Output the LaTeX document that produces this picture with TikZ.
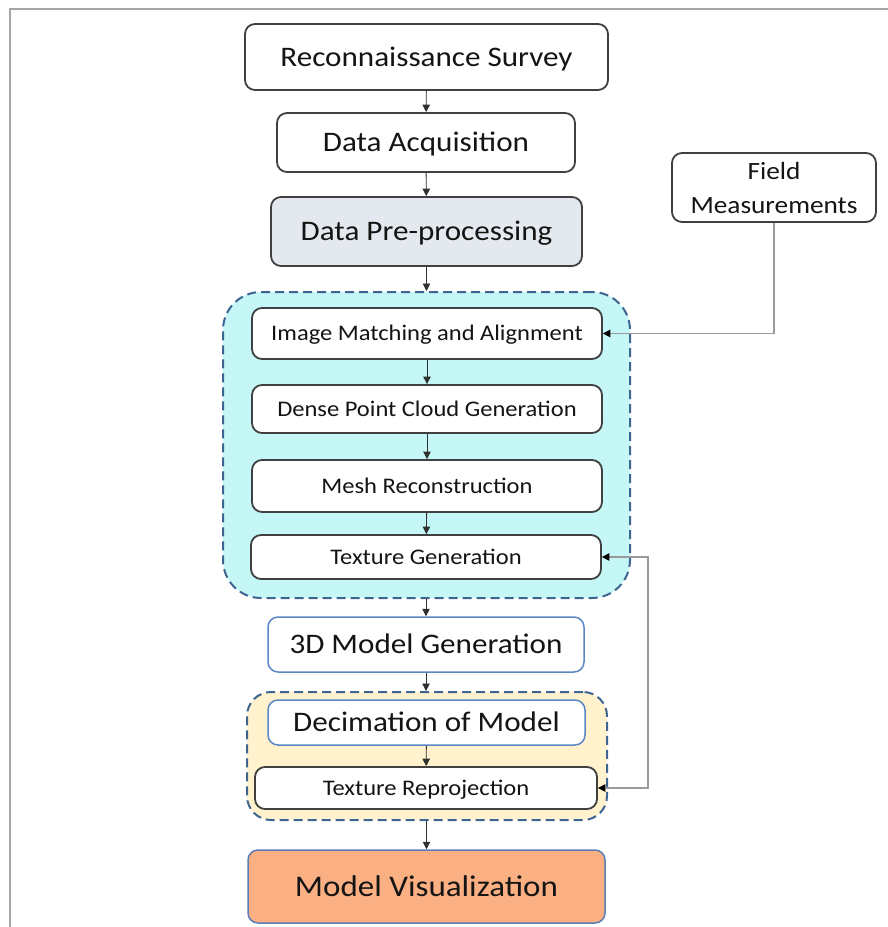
\documentclass[tikz,border=0pt]{standalone}
\usepackage{fontspec}
\usepackage{graphicx}
\setmainfont{Carlito}
\usetikzlibrary{arrows.meta}
\definecolor{boxline}{HTML}{404040}
\definecolor{blueline}{HTML}{5B86C5}
\definecolor{dashline}{HTML}{3E6591}
\definecolor{cyanfill}{HTML}{C6F7F7}
\definecolor{yelfill}{HTML}{FFF2CC}
\definecolor{prepfill}{HTML}{E4E9EF}
\definecolor{visfill}{HTML}{FBB083}
\definecolor{visline}{HTML}{5B7DB5}
\definecolor{grayline}{HTML}{9A9A9A}
\definecolor{arrline}{HTML}{303030}
\definecolor{framec}{HTML}{A6A6A6}
\definecolor{textc}{HTML}{141414}
\newcommand\wx[1]{\scalebox{1.1}[1]{#1}}
\begin{document}
\begin{tikzpicture}[x=1pt,y=-1pt,
  basebox/.style={draw=boxline, line width=1.8pt, rounded corners=10pt, fill=white, inner sep=0pt, text=textc},
  box/.style={basebox, text depth=0pt},
  bluebox/.style={box, draw=blueline, line width=1.5pt},
  big/.style={font=\fontsize{28.3}{34}\selectfont, text height=18.2pt},
  small/.style={font=\fontsize{22.3}{27}\selectfont, text height=14.4pt},
  huge/.style={font=\fontsize{30}{36}\selectfont, text height=19.3pt},
  grp/.style={draw=dashline, line width=2pt, dash pattern=on 9pt off 5pt, inner sep=0pt},
  arr/.style={-{Triangle[width=7.5pt,length=7.5pt]}, line width=0.9pt, draw=arrline},
  garr/.style={-{Triangle[width=7.5pt,length=7.5pt,color=black]}, line width=1.4pt, draw=grayline},
  garrb/.style={{Triangle[width=7.5pt,length=7.5pt,color=black]}-{Triangle[width=7.5pt,length=7.5pt,color=black]}, line width=1.4pt, draw=grayline},
  framestyle/.style={draw=framec, line width=2pt}
]
\useasboundingbox (0,0) rectangle (888,927);
\draw[framestyle] (10,927) -- (10,9) -- (888,9);

% groups
\node[grp, fill=cyanfill, rounded corners=38pt, minimum width=407pt, minimum height=306pt] (g1) at (426.5,445) {};
\node[grp, fill=yelfill, rounded corners=24pt, minimum width=360pt, minimum height=128pt] (g2) at (427,756) {};

% boxes
\node[box, big, minimum width=363pt, minimum height=66pt] (recon) at (426.5,57) {\wx{Reconnaissance Survey}};
\node[box, big, minimum width=298pt, minimum height=59pt] (acq) at (426,142.5) {\wx{Data Acquisition}};
\node[box, big, fill=prepfill, minimum width=311pt, minimum height=69pt] (prep) at (426.5,231.5) {\wx{Data Pre-processing}};
\node[box, small, minimum width=350pt, minimum height=51pt] (img) at (427,333.5) {\wx{Image Matching and Alignment}};
\node[box, small, minimum width=350pt, minimum height=48pt] (dense) at (427,409) {\wx{Dense Point Cloud Generation}};
\node[box, small, minimum width=350pt, minimum height=52pt] (mesh) at (427,486) {\wx{Mesh Reconstruction}};
\node[box, small, minimum width=350pt, minimum height=44pt] (texgen) at (426,557) {\wx{Texture Generation}};
\node[bluebox, big, minimum width=316pt, minimum height=55pt] (model) at (426,644.5) {\wx{3D Model Generation}};
\node[bluebox, big, minimum width=317pt, minimum height=45pt] (decim) at (426.5,722.5) {\wx{Decimation of Model}};
\node[box, small, minimum width=342pt, minimum height=42pt] (texrep) at (426,788) {\wx{Texture Reprojection}};
\node[bluebox, huge, draw=visline, fill=visfill, minimum width=357pt, minimum height=73pt] (vis) at (426.5,886.5) {\wx{Model Visualization}};
\node[basebox, align=center, font=\fontsize{24.8}{34}\selectfont, minimum width=204pt, minimum height=69pt] (field) at (774,187.5) {\wx{Field}\\\wx{Measurements}};

% connectors
\draw[arr] (recon) -- (acq);
\draw[arr] (acq) -- (prep);
\draw[arr] (prep.south) -- (prep.south |- g1.north);
\draw[arr] (img) -- (dense);
\draw[arr] (dense) -- (mesh);
\draw[arr] (mesh) -- (texgen);
\draw[arr] (model.north |- g1.south) -- (model.north);
\draw[arr] (model.south) -- (model.south |- g2.north);
\draw[arr] (decim) -- (texrep);
\draw[arr] (vis.north |- g2.south) -- (vis.north);

\coordinate (fb) at (648,0);
\draw[garr] (field.south) |- (img.east);
\draw[garrb] (texgen.east) -- (texgen.east -| fb) |- (texrep.east);
\end{tikzpicture}
\end{document}
